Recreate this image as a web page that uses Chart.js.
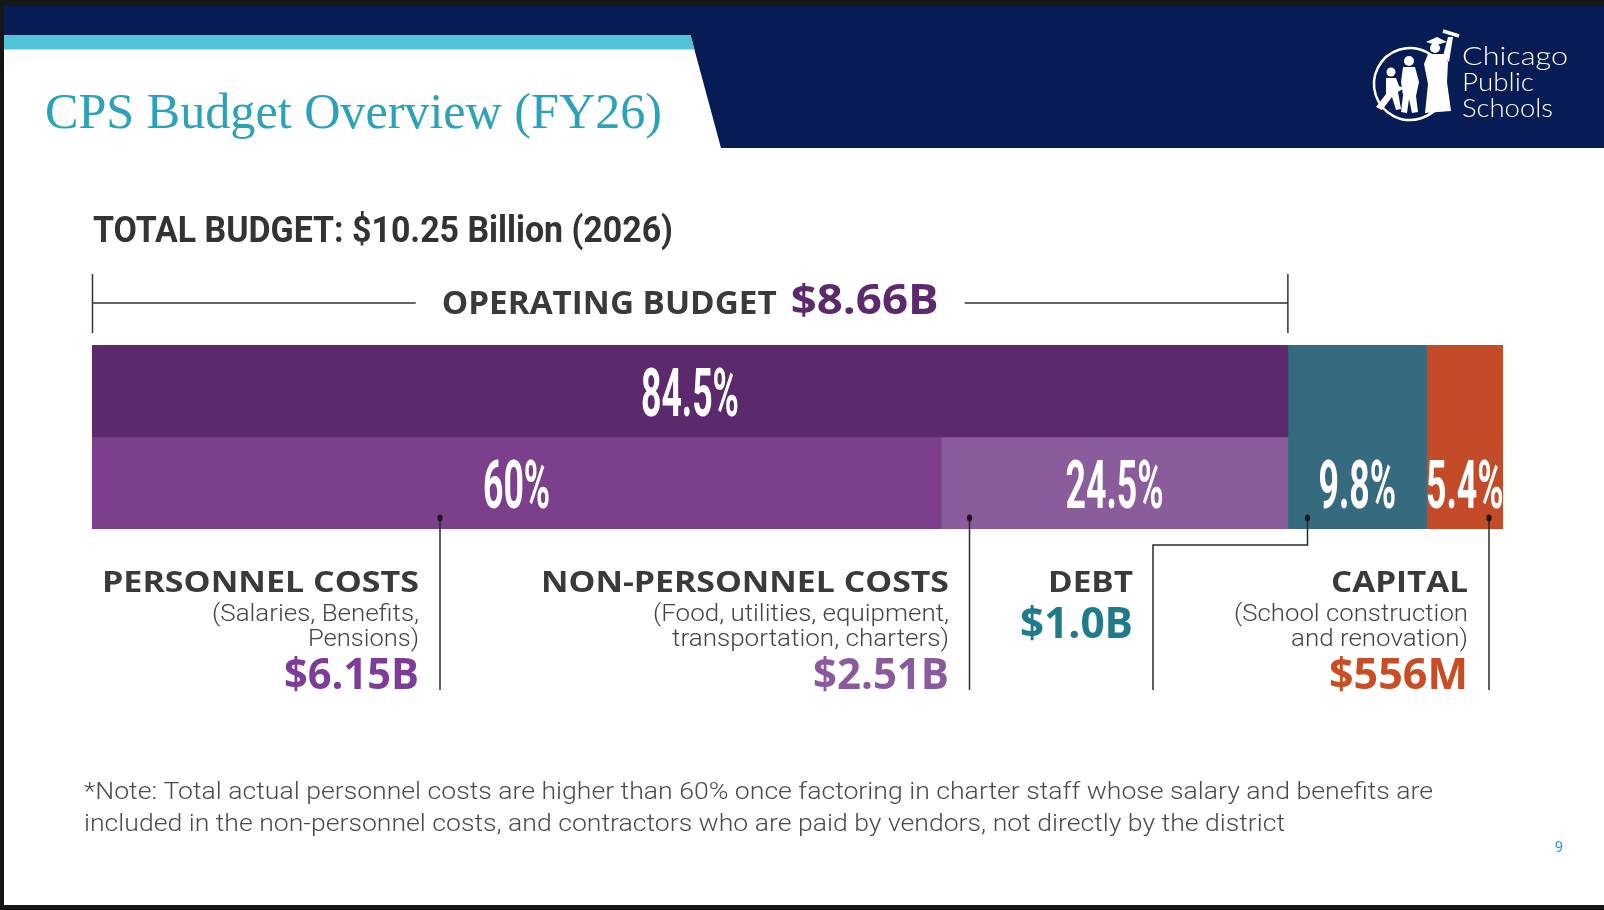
<!DOCTYPE html>
<html>
<head>
<meta charset="utf-8">
<title>CPS Budget Overview (FY26)</title>
<script src="https://cdn.jsdelivr.net/npm/chart.js@4.4.1/dist/chart.umd.min.js"></script>
<style>
  html, body { margin: 0; padding: 0; background: #161616; }
  canvas { display: block; }
</style>
</head>
<body>
<canvas id="budgetChart" width="1604" height="910"></canvas>
<script>
// rows of the stacked bar: operating total on top, its split underneath
const rows = ['Operating budget', 'Operating split'];
const seriesNames = ['Operating budget', 'Personnel costs', 'Non-personnel costs', 'Debt', 'Capital'];
const operating = [84.5, null];
const personnel = [null, 60];
const nonPersonnel = [null, 24.5];
const debt = [9.8, 9.8];
const capital = [5.4, 5.4];

const titleText = 'CPS Budget Overview (FY26)';
const totalBudgetText = 'TOTAL BUDGET: $10.25 Billion (2026)';
const operatingLabel = 'OPERATING BUDGET';
const operatingAmount = '$8.66B';
const calloutTitles = ['PERSONNEL COSTS', 'NON-PERSONNEL COSTS', 'DEBT', 'CAPITAL'];
const calloutNotes = [
    ['(Salaries, Benefits,', 'Pensions)'],
    ['(Food, utilities, equipment,', 'transportation, charters)'],
    [],
    ['(School construction', 'and renovation)']
];
const calloutAmounts = ['$6.15B', '$2.51B', '$1.0B', '$556M'];
const noteLines = [
    '*Note: Total actual personnel costs are higher than 60% once factoring in charter staff whose salary and benefits are',
    'included in the non-personnel costs, and contractors who are paid by vendors, not directly by the district'
];
const pageNumber = '9';

const barColors = ['#5c2a6c', '#7b3f8b', '#8a5c9c', '#366a7e', '#c44b27'];
const amountColors = ['#7d3c98', '#8a5a9e', '#1f7a8c', '#c94c24'];

// callout layout (pixels): right edge of the text block, widths of each line
const calloutLayout = [
    { right: 419, leader: 440, widths: [317, 207, 111, 135] },
    { right: 949, leader: 969.5, widths: [408, 296, 277, 136] },
    { right: 1133, leader: 1307.5, elbowX: 1153, elbowY: 545, widths: [85, 113] },
    { right: 1468, leader: 1489, widths: [137, 234, 177, 139] }
];

// draw text, optionally squeezed/stretched to a given width
function drawText(ctx, text, x, y, o) {
    ctx.save();
    ctx.font = o.font;
    ctx.fillStyle = o.color;
    ctx.textAlign = 'left';
    ctx.textBaseline = 'alphabetic';
    const w = ctx.measureText(text).width;
    const sx = o.width ? o.width / w : (o.scaleX || 1);
    let left = x;
    if (o.align === 'right') left = x - w * sx;
    if (o.align === 'center') left = x - w * sx / 2;
    ctx.translate(left, y);
    ctx.scale(sx, 1);
    ctx.fillText(text, 0, 0);
    ctx.restore();
    return w * sx;
}

function poly(ctx, pts) {
    ctx.beginPath();
    ctx.moveTo(pts[0][0], pts[0][1]);
    for (let i = 1; i < pts.length; i++) ctx.lineTo(pts[i][0], pts[i][1]);
    ctx.closePath();
    ctx.fill();
}

function drawLogo(ctx) {
    ctx.save();
    ctx.fillStyle = '#fff';
    ctx.strokeStyle = '#fff';
    ctx.lineWidth = 2.5;
    ctx.beginPath();
    ctx.arc(1410, 84, 36, 0.15 * Math.PI, 1.75 * Math.PI);
    ctx.stroke();
    // walking kid
    ctx.beginPath(); ctx.arc(1391, 72, 4.5, 0, Math.PI * 2); ctx.fill();
    poly(ctx, [[1386, 78], [1396, 78], [1399, 86], [1404, 88], [1398, 92], [1401, 109], [1396, 110], [1392, 97], [1382, 110], [1376, 107], [1386, 94]]);
    // girl
    ctx.beginPath(); ctx.arc(1409, 61, 5, 0, Math.PI * 2); ctx.fill();
    poly(ctx, [[1403, 67], [1415, 67], [1419, 82], [1416, 96], [1418, 112], [1412, 113], [1409, 99], [1407, 113], [1401, 112], [1403, 95], [1401, 82]]);
    // graduate
    ctx.beginPath(); ctx.arc(1435, 48, 5, 0, Math.PI * 2); ctx.fill();
    poly(ctx, [[1426, 42], [1437, 37], [1447, 42], [1436, 45]]);
    poly(ctx, [[1428, 54], [1444, 54], [1448, 62], [1447, 82], [1451, 111], [1425, 113], [1428, 84], [1424, 64]]);
    poly(ctx, [[1443, 56], [1448, 37], [1453, 37], [1449, 62]]);
    ctx.lineWidth = 3.5;
    ctx.beginPath(); ctx.moveTo(1443, 31); ctx.lineTo(1459, 36); ctx.stroke();
    ctx.restore();
    const f = { font: '300 26px Lato', color: '#fff', align: 'left' };
    drawText(ctx, 'Chicago', 1462, 65, { ...f, width: 106 });
    drawText(ctx, 'Public', 1462, 91, { ...f, width: 72 });
    drawText(ctx, 'Schools', 1462, 117, { ...f, width: 91 });
}

const slidePlugin = {
    id: 'slide',
    beforeDraw(chart) {
        const ctx = chart.ctx;
        ctx.save();
        ctx.fillStyle = '#161616';
        ctx.fillRect(0, 0, 1604, 910);
        ctx.fillStyle = '#ffffff';
        ctx.fillRect(4, 6, 1600, 899);
        ctx.fillStyle = '#071b55';
        poly(ctx, [[4, 6], [1604, 6], [1604, 148], [721, 148], [690.5, 35], [4, 35]]);
        ctx.fillStyle = '#52c3d8';
        poly(ctx, [[4, 35], [690.5, 35], [694.4, 49.5], [4, 49.5]]);
        ctx.restore();
        drawText(ctx, titleText, 45, 128, { font: '50px "Liberation Serif"', color: '#2aa2b9', width: 617 });
        drawLogo(ctx);
    },
    afterDatasetsDraw(chart) {
        const ctx = chart.ctx;
        // percentage labels: the bottom row, plus the operating total on top
        chart.data.datasets.forEach((ds, i) => {
            let j = ds.data.length - 1;
            while (j >= 0 && ds.data[j] == null) j--;
            const el = chart.getDatasetMeta(i).data[j];
            const cx = (el.x + el.base) / 2;
            drawText(ctx, ds.data[j] + '%', cx, el.y + 25, { font: 'bold 66px Roboto', color: '#fff', align: 'center', scaleX: 0.54 });
        });
        // leader lines
        const dotY = chart.chartArea.bottom - 11;
        const endY = 690;
        ctx.save();
        ctx.strokeStyle = '#2a2a2a';
        ctx.fillStyle = '#1a1a1a';
        ctx.lineWidth = 1.5;
        calloutLayout.forEach(c => {
            ctx.beginPath();
            ctx.moveTo(c.leader, dotY);
            if (c.elbowX) {
                ctx.lineTo(c.leader, c.elbowY);
                ctx.lineTo(c.elbowX, c.elbowY);
                ctx.lineTo(c.elbowX, endY);
            } else {
                ctx.lineTo(c.leader, endY);
            }
            ctx.stroke();
            ctx.beginPath();
            ctx.ellipse(c.leader, dotY, 2.6, 3.4, 0, 0, Math.PI * 2);
            ctx.fill();
        });
        ctx.restore();
    },
    afterDraw(chart) {
        const ctx = chart.ctx;
        const area = chart.chartArea;
        const xs = chart.scales.x;
        const headColor = '#3a3a3a';

        drawText(ctx, totalBudgetText, 93, 242, { font: 'bold 36px Roboto', color: '#333', width: 580 });

        // operating budget bracket
        const left = area.left + 0.5;
        const right = xs.getPixelForValue(operating[0]);
        const mid = (left + right) / 2;
        const lblW = 335, amtW = 148, gap = 14, pad = 26;
        const total = lblW + gap + amtW;
        const tx = mid - total / 2;
        ctx.save();
        ctx.strokeStyle = '#333';
        ctx.lineWidth = 1.5;
        ctx.beginPath();
        ctx.moveTo(left, 274); ctx.lineTo(left, 333);
        ctx.moveTo(right, 274); ctx.lineTo(right, 333);
        ctx.moveTo(left, 303); ctx.lineTo(tx - pad, 303);
        ctx.moveTo(tx + total + pad, 303); ctx.lineTo(right, 303);
        ctx.stroke();
        ctx.restore();
        drawText(ctx, operatingLabel, tx, 314, { font: 'bold 33px "Open Sans"', color: headColor, width: lblW });
        drawText(ctx, operatingAmount, tx + lblW + gap, 314, { font: 'bold 41px "Open Sans"', color: '#5c2a6c', width: amtW });

        // callouts under the bar
        calloutLayout.forEach((c, i) => {
            let k = 0;
            drawText(ctx, calloutTitles[i], c.right, 592, { font: 'bold 28px "Open Sans"', color: headColor, align: 'right', width: c.widths[k++] });
            calloutNotes[i].forEach((line, n) => {
                drawText(ctx, line, c.right, 621 + n * 25, { font: '300 23px Roboto', color: '#444', align: 'right', width: c.widths[k++] });
            });
            const amtY = calloutNotes[i].length ? 689 : 638;
            drawText(ctx, calloutAmounts[i], c.right, amtY, { font: 'bold 43px "Open Sans"', color: amountColors[i], align: 'right', width: c.widths[k++] });
        });

        // footnote and page number
        drawText(ctx, noteLines[0], 84, 799, { font: '300 24px Roboto', color: '#4a4a4a', width: 1349 });
        drawText(ctx, noteLines[1], 84, 831, { font: '300 24px Roboto', color: '#4a4a4a', width: 1201 });
        drawText(ctx, pageNumber, 1559, 852, { font: '15px Roboto', color: '#2aa2b9', align: 'center' });
    }
};

const ctx = document.getElementById('budgetChart').getContext('2d');
const chart = new Chart(ctx, {
    type: 'bar',
    data: {
        labels: rows,
        datasets: [operating, personnel, nonPersonnel, debt, capital].map((values, i) => ({
            label: seriesNames[i],
            data: values,
            backgroundColor: barColors[i],
            borderWidth: 0,
            categoryPercentage: 1,
            barPercentage: 1
        }))
    },
    options: {
        indexAxis: 'y',
        responsive: false,
        animation: false,
        events: [],
        devicePixelRatio: 1,
        layout: { padding: { left: 92, right: 101, top: 345, bottom: 381 } },
        scales: {
            x: { stacked: true, display: false, min: 0, max: operating[0] + debt[0] + capital[0] },
            y: { stacked: true, display: false }
        },
        plugins: {
            legend: { display: false },
            tooltip: { enabled: false }
        }
    },
    plugins: [slidePlugin]
});
</script>
</body>
</html>
